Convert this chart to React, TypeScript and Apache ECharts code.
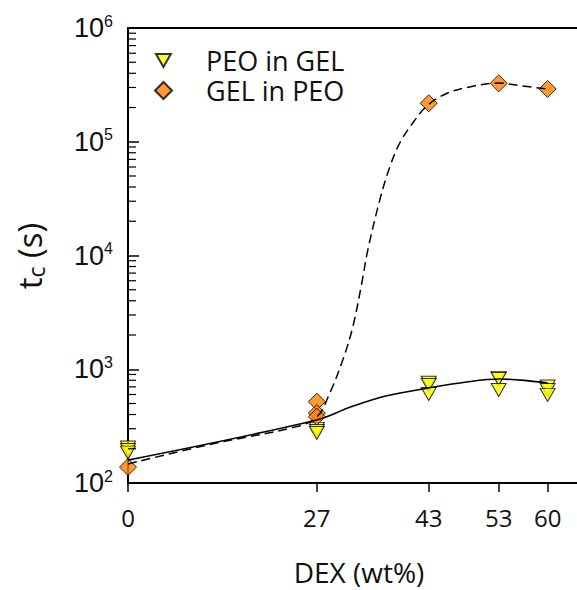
import React, { useEffect, useRef } from "react";
import * as echarts from "echarts";

// ---- axis ticks ----
const xTickValues = [0, 27, 43, 53, 60];
const yMinorTickValues = [
  200, 300, 400, 500, 600, 700, 800, 900,
  2000, 3000, 4000, 5000, 6000, 7000, 8000, 9000,
  20000, 30000, 40000, 50000, 60000, 70000, 80000, 90000,
  200000, 300000, 400000, 500000, 600000, 700000, 800000, 900000,
];

// ---- measured points ----
const peoInGelX = [0, 0, 0, 27, 27, 27, 43, 43, 43, 53, 53, 53, 60, 60, 60];
const peoInGelY = [205, 195, 185, 299, 287, 275, 760, 728, 605, 840, 820, 657, 706, 657, 595];

const gelInPeoX = [0, 27, 27, 27, 43, 53, 60];
const gelInPeoY = [138, 519, 412, 383, 218000, 326000, 291000];

// ---- fitted curves ----
const gelFitX = [0, 12, 24, 27, 28.86, 30.71, 32.14, 33.43, 34.29, 36, 37.43, 38.86, 40.71, 42.86, 45.71, 49, 52.86, 56.43, 60];
const gelFitY = [147, 220, 312, 380, 618, 1205, 2350, 5730, 11170, 30750, 60000, 97500, 146000, 210000, 268000, 305000, 328000, 309000, 291000];

const peoFitX = [0, 27, 32, 37, 43, 48.4, 53.1, 57, 60];
const peoFitY = [159, 358, 470, 585, 685, 773, 820, 795, 757];

const zip = (xs: number[], ys: number[]) => xs.map((x, i) => [x, ys[i]]);

const TRI = "path://M0,0L16,0L8,14Z";
const YELLOW = "#FFFF00";
const ORANGE = "#FF7F00";
const SANS = "Open Sans";

export default function App() {
  const ref = useRef<HTMLDivElement>(null);

  useEffect(() => {
    if (!ref.current) return;
    const chart = echarts.init(ref.current, undefined, { renderer: "svg" });
    const xMin = 0;
    const xMax = 64.2;

    const legendText = { fontSize: 27, fontFamily: SANS, color: "#111", lineHeight: 24 };

    const option: any = {
      animation: false,
      backgroundColor: "#fff",
      grid: { left: 128, right: 0, top: 28, bottom: 107, containLabel: false },
      legend: [
        {
          data: [{ name: "PEO in GEL", icon: TRI }],
          orient: "vertical",
          left: 155,
          top: 47,
          padding: 0,
          itemWidth: 15,
          itemHeight: 13,
          textStyle: { ...legendText, padding: [0, 0, 0, 30] },
          selectedMode: false,
        },
        {
          data: [{ name: "GEL in PEO", icon: "diamond" }],
          orient: "vertical",
          left: 154,
          top: 77,
          padding: 0,
          itemWidth: 17,
          itemHeight: 17,
          textStyle: { ...legendText, padding: [0, 0, 0, 29] },
          selectedMode: false,
        },
      ],
      xAxis: [
        {
          type: "value",
          min: xMin,
          max: xMax,
          position: "bottom",
          axisLine: { show: true, onZero: false, lineStyle: { color: "#000", width: 2 } },
          axisTick: { show: true, inside: false, length: 9, customValues: xTickValues, lineStyle: { color: "#000", width: 1.5 } },
          axisLabel: {
            customValues: xTickValues,
            margin: 22,
            fontSize: 24,
            fontFamily: SANS,
            color: "#111",
          },
          splitLine: { show: false },
        },
        {
          type: "value",
          min: xMin,
          max: xMax,
          position: "top",
          axisLine: { show: true, onZero: false, lineStyle: { color: "#000", width: 2 } },
          axisTick: { show: false },
          axisLabel: { show: false },
          splitLine: { show: false },
        },
      ],
      yAxis: {
        type: "log",
        logBase: 10,
        min: 100,
        max: 1000000,
        axisLine: { show: true, onZero: false, lineStyle: { color: "#000", width: 2 } },
        axisTick: { show: true, inside: true, length: 11, lineStyle: { color: "#000", width: 1.5 } },
        splitLine: { show: false },
        axisLabel: {
          margin: 15,
          formatter: (v: number) => `{b|10}{s|${Math.round(Math.log10(v))}}`,
          rich: {
            b: { fontSize: 27, fontFamily: "Liberation Sans", color: "#111", lineHeight: 30 },
            s: { fontSize: 16, fontFamily: "Liberation Sans", color: "#111", lineHeight: 17, verticalAlign: "top" },
          },
        },
      },
      graphic: [
        {
          type: "text",
          x: 359,
          y: 572,
          style: {
            text: "DEX (wt%)",
            fontSize: 28,
            lineHeight: 30,
            fontFamily: SANS,
            fill: "#111",
            align: "center",
            verticalAlign: "middle",
          },
        },
        {
          type: "text",
          x: 29,
          y: 256,
          rotation: Math.PI / 2,
          style: {
            text: "{t|t}{c|c}{t| (s)}",
            align: "center",
            verticalAlign: "middle",
            rich: {
              t: { fontSize: 33, fontFamily: SANS, fill: "#111", lineHeight: 36 },
              c: { fontSize: 23, fontFamily: SANS, fill: "#111", lineHeight: 24, verticalAlign: "bottom" },
            },
          },
        },
      ],
      series: [
        {
          type: "custom",
          name: "minorTicks",
          silent: true,
          clip: false,
          z: 6,
          data: yMinorTickValues.map((v) => [xMin, v]),
          renderItem: (_p: any, api: any) => {
            const pt = api.coord([xMin, api.value(1)]);
            return {
              type: "line",
              shape: { x1: pt[0], y1: pt[1], x2: pt[0] + 8, y2: pt[1] },
              style: { stroke: "#000", lineWidth: 1.2 },
            };
          },
        },
        {
          name: "PEO in GEL",
          type: "scatter",
          symbol: TRI,
          symbolSize: [15, 13],
          itemStyle: { color: YELLOW, borderColor: "#000", borderWidth: 1 },
          data: zip(peoInGelX, peoInGelY),
          z: 3,
        },
        {
          name: "GEL in PEO",
          type: "scatter",
          symbol: "diamond",
          symbolSize: [17, 17],
          itemStyle: { color: ORANGE, borderColor: "#000", borderWidth: 1 },
          data: zip(gelInPeoX, gelInPeoY),
          z: 4,
        },
        {
          name: "GEL fit",
          type: "line",
          smooth: 0.35,
          showSymbol: false,
          symbol: "none",
          silent: true,
          lineStyle: { color: "#000", width: 1.5, type: [9, 5] },
          data: zip(gelFitX, gelFitY),
          z: 5,
        },
        {
          name: "PEO fit",
          type: "line",
          smooth: 0.35,
          showSymbol: false,
          symbol: "none",
          silent: true,
          lineStyle: { color: "#000", width: 1.6 },
          data: zip(peoFitX, peoFitY),
          z: 5,
        },
      ],
    };

    chart.setOption(option);
    return () => chart.dispose();
  }, []);

  return (
    <div
      ref={ref}
      style={{ position: "absolute", left: 0, top: 0, width: 577, height: 590 }}
    />
  );
}
